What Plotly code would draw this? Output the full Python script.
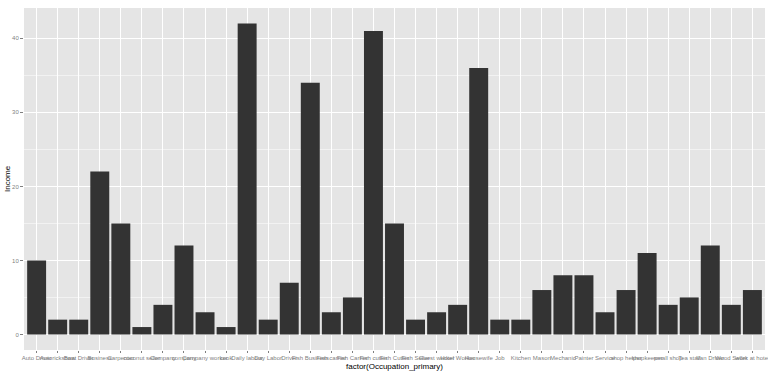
import plotly.graph_objects as go

occupations = [
    "Auto Driver", "Autorickshaw", "Boat Driver", "Business", "Carpenter",
    "coconut seller", "Company", "company", "Company worker", "cook",
    "Daily labour", "Day Labor", "Driver", "Fish Business", "Fish carrier",
    "Fish Carrier", "Fish cutter", "Fish Cutter", "Fish Seller", "Guest worker",
    "Hotel Worker", "Housewife", "Job", "Kitchen", "Mason",
    "Mechanic", "Painter", "Service", "shop helper", "shopkeeper",
    "small shop", "Tea stall", "Van Driver", "Wood Seller", "work at hotel",
]
income = [
    10, 2, 2, 22, 15,
    1, 4, 12, 3, 1,
    42, 2, 7, 34, 3,
    5, 41, 15, 2, 3,
    4, 36, 2, 2, 6,
    8, 8, 3, 6, 11,
    4, 5, 12, 4, 6,
]

fig = go.Figure(go.Bar(
    x=occupations, y=income,
    marker=dict(color="#333333", line=dict(width=0)),
    width=0.9,
))

fig.update_layout(
    width=768, height=372,
    margin=dict(l=24, r=3, t=8, b=22, autoexpand=False),
    paper_bgcolor="white",
    plot_bgcolor="#E5E5E5",
    showlegend=False,
    font=dict(family="Liberation Sans, Arial, sans-serif"),
    xaxis=dict(
        type="category",
        range=[-0.6, len(occupations) - 0.4],
        showgrid=True, gridcolor="white", gridwidth=1,
        ticks="outside", ticklen=2, tickcolor="#7F7F7F",
        tickfont=dict(size=6, color="#7F7F7F"),
        tickangle=0,
        zeroline=False, showline=False,
        automargin=False,
    ),
    yaxis=dict(
        range=[-2.1, 44.1],
        tick0=0, dtick=10,
        showgrid=True, gridcolor="white", gridwidth=1,
        minor=dict(dtick=5, showgrid=True, gridcolor="#F2F2F2", gridwidth=0.6),
        ticks="outside", ticklen=3, tickcolor="#7F7F7F",
        tickfont=dict(size=6, color="#7F7F7F"),
        zeroline=False, showline=False,
        automargin=False,
    ),
    annotations=[
        dict(text="factor(Occupation_primary)", x=0.5, xref="paper",
             y=0, yref="paper", yanchor="top", yshift=-10, showarrow=False,
             font=dict(size=8, color="black")),
        dict(text="Income", x=0, xref="paper", xanchor="center", xshift=-17,
             y=0.5, yref="paper", textangle=-90, showarrow=False,
             font=dict(size=8, color="black")),
    ],
)

fig.write_html("out.html")
